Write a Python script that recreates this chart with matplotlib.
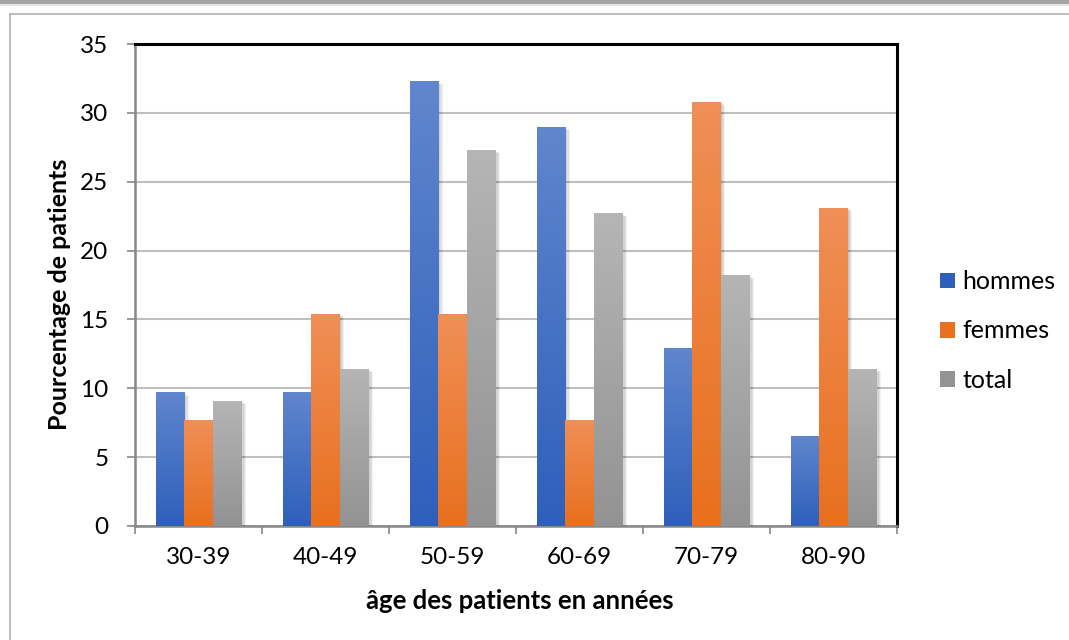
import numpy as np
import matplotlib
matplotlib.use("Agg")
import matplotlib.pyplot as plt
from matplotlib.patches import Rectangle
from matplotlib.lines import Line2D
import matplotlib.patheffects as pe
from matplotlib.colors import LinearSegmentedColormap

categories = ["30-39", "40-49", "50-59", "60-69", "70-79", "80-90"]
hommes = [9.7, 9.7, 32.3, 29.0, 12.9, 6.5]
femmes = [7.7, 15.4, 15.4, 7.7, 30.8, 23.1]
total = [9.1, 11.4, 27.3, 22.7, 18.2, 11.4]
series_names = ["hommes", "femmes", "total"]
series_values = [hommes, femmes, total]
yticks = [0, 5, 10, 15, 20, 25, 30, 35]

grad = {
    "hommes": ("#6086cd", "#2e5fbb"),
    "femmes": ("#f08f57", "#e8701e"),
    "total": ("#b5b5b5", "#939393"),
}

plt.rcParams['font.family'] = ['Lato', 'DejaVu Sans']

fig = plt.figure(figsize=(10.69, 6.40), dpi=100)
W, H = 1069, 640

# outer decorations
fig.patches.append(Rectangle((0, 1 - 4 / H), 1, 4 / H, transform=fig.transFigure,
                             facecolor="#a5a5a5", edgecolor="none"))
fig.patches.append(Rectangle((0, 1 - 6 / H), 1, 2 / H, transform=fig.transFigure,
                             facecolor="#e6e6e6", edgecolor="none"))
fig.lines.append(Line2D([9.5 / W, 1.0], [1 - 14 / H, 1 - 14 / H], transform=fig.transFigure,
                        color="#b0b0b0", lw=1.2))
fig.lines.append(Line2D([9.5 / W, 9.5 / W], [0, 1 - 14 / H], transform=fig.transFigure,
                        color="#b0b0b0", lw=1.2))

ax = fig.add_axes([135 / W, 1 - 526 / H, (897 - 135) / W, (526 - 44) / H])

x = np.arange(len(categories))
bw = 0.225
shadow = [pe.SimplePatchShadow(offset=(o, -o * 0.7), shadow_rgbFace="#000000", alpha=0.06)
          for o in (0.8, 1.6, 2.4, 3.2)] + [pe.Normal()]
for i, (name, vals) in enumerate(zip(series_names, series_values)):
    offs = (i - 1) * bw
    top_c, bot_c = grad[name]
    cmap = LinearSegmentedColormap.from_list(name, [bot_c, top_c])
    bars = ax.bar(x + offs, vals, width=bw, color=bot_c, label=name, zorder=3,
                  edgecolor="none")
    for b in bars:
        b.set_path_effects(shadow)
        x0, y0 = b.get_x(), b.get_y()
        w, h = b.get_width(), b.get_height()
        g = np.linspace(0, 1, 256).reshape(-1, 1)
        im = ax.imshow(g, cmap=cmap, origin="lower", extent=[x0, x0 + w, y0, y0 + h],
                       aspect="auto", zorder=4, interpolation="bilinear")
        im.set_clip_path(b)

ax.set_xlim(-0.5, len(categories) - 0.5)
ax.set_ylim(0, 35)
ax.set_yticks(yticks)
ax.set_yticklabels([str(t) for t in yticks])
ax.set_xticks(x)
ax.set_xticklabels(categories)
ax.set_xticks(np.arange(-0.5, len(categories), 1.0), minor=True)
ax.tick_params(axis="x", which="major", length=0, pad=15, labelsize=17.5)
ax.tick_params(axis="x", which="minor", length=6, width=1.2, color="#888888", direction="out")
ax.tick_params(axis="y", length=6, width=1.2, color="#888888", direction="out", pad=13,
               labelsize=17.5)
ax.grid(axis="y", color="#bfbfbf", lw=1.5, zorder=0)
ax.set_axisbelow(True)

for s in ["top", "right"]:
    ax.spines[s].set_color("#000000")
    ax.spines[s].set_linewidth(2.2)
for s in ["left", "bottom"]:
    ax.spines[s].set_color("#888888")
    ax.spines[s].set_linewidth(1.8)

fig.text(60 / W, 1 - 294 / H, "Pourcentage de patients", fontsize=18, fontweight="bold",
         rotation=90, ha="center", va="center")
fig.text(520 / W, 1 - 601 / H, "âge des patients en années", fontsize=18.5, fontweight="bold",
         ha="center", va="center")

# legend
handles = []
for name in series_names:
    handles.append(Rectangle((0, 0), 1, 1, facecolor=grad[name][1], edgecolor="none"))
leg = fig.legend(handles, series_names, loc="center left",
                 bbox_to_anchor=(940 / W, 1 - 331 / H), frameon=False, fontsize=18,
                 handlelength=0.6, handleheight=0.6, handletextpad=0.3, labelspacing=1.05,
                 borderpad=0, borderaxespad=0)

fig.savefig("out.png", dpi=100)
